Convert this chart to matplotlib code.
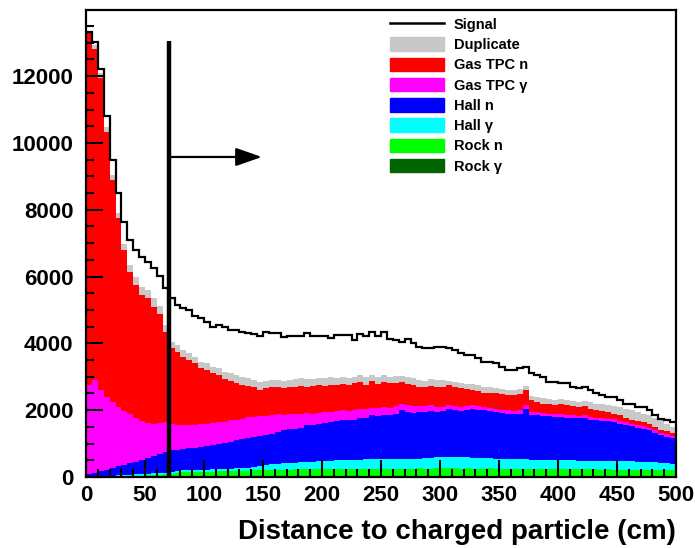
import numpy as np
import matplotlib
matplotlib.use("Agg")
import matplotlib.pyplot as plt
from matplotlib.patches import Patch
from matplotlib.lines import Line2D

plt.rcParams['font.family'] = ['Liberation Sans', 'DejaVu Sans']
plt.rcParams['font.weight'] = 'bold'

# bin edges: 100 bins of 5 cm from 0 to 500
bin_edges = np.linspace(0, 500, 101)

# Signal histogram (total)
signal = np.array([
    13330, 13020, 12220, 10820, 9480, 8500, 7630, 7090, 6790, 6590,
    6440, 6250, 6020, 5670, 5370, 5140, 5070, 4990, 4810, 4760,
    4640, 4490, 4540, 4490, 4390, 4390, 4340, 4300, 4280, 4220,
    4340, 4300, 4300, 4180, 4220, 4230, 4220, 4300, 4220, 4230,
    4210, 4150, 4250, 4260, 4240, 4110, 4280, 4220, 4350, 4230,
    4350, 4130, 4100, 4050, 4120, 4000, 3900, 3850, 3870, 3900,
    3880, 3850, 3800, 3700, 3650, 3650, 3550, 3450, 3450, 3400,
    3300, 3200, 3200, 3250, 3300, 3100, 3050, 3000, 2850, 2850,
    2800, 2800, 2700, 2650, 2700, 2600, 2500, 2450, 2400, 2400,
    2300, 2200, 2200, 2100, 2100, 2000, 1850, 1750, 1700, 1650])

# Cumulative stack levels (top edge of each stacked component)
stack_duplicate = np.array([
    13320, 12920, 12080, 10480, 9030, 7890, 6970, 6340, 5990, 5690,
    5600, 5350, 5120, 4550, 4050, 3950, 3800, 3720, 3600, 3450,
    3400, 3300, 3250, 3150, 3100, 3050, 2980, 2950, 2900, 2850,
    2870, 2900, 2900, 2880, 2900, 2920, 2950, 2920, 2940, 2960,
    2950, 2980, 2960, 2990, 2970, 3000, 3050, 2980, 3060, 2990,
    3060, 3000, 3010, 3030, 2990, 2960, 2900, 2880, 2920, 2900,
    2900, 2880, 2850, 2800, 2780, 2780, 2750, 2700, 2700, 2650,
    2620, 2600, 2600, 2620, 2720, 2420, 2400, 2350, 2330, 2300,
    2330, 2300, 2280, 2250, 2270, 2250, 2200, 2180, 2150, 2120,
    2100, 2050, 2000, 1950, 1880, 1850, 1780, 1700, 1600, 1500])

stack_gas_n = np.array([
    13290, 12820, 11930, 10330, 8880, 7740, 6790, 6140, 5740, 5440,
    5350, 5100, 4870, 4350, 3850, 3750, 3600, 3500, 3400, 3250,
    3200, 3100, 3050, 2920, 2880, 2820, 2750, 2720, 2700, 2600,
    2650, 2680, 2700, 2650, 2680, 2700, 2720, 2700, 2720, 2740,
    2730, 2760, 2740, 2780, 2750, 2800, 2850, 2760, 2860, 2780,
    2850, 2800, 2800, 2830, 2780, 2760, 2700, 2680, 2720, 2700,
    2700, 2750, 2680, 2650, 2620, 2600, 2580, 2520, 2520, 2500,
    2480, 2450, 2450, 2480, 2600, 2300, 2250, 2200, 2180, 2150,
    2200, 2150, 2120, 2100, 2120, 2050, 2000, 1980, 1950, 1900,
    1850, 1780, 1720, 1680, 1650, 1580, 1500, 1420, 1380, 1330])

stack_gas_gamma = np.array([
    2750, 2900, 2600, 2400, 2250, 2100, 1980, 1880, 1780, 1680,
    1620, 1600, 1620, 1650, 1600, 1560, 1550, 1560, 1560, 1580,
    1600, 1620, 1650, 1660, 1700, 1720, 1750, 1790, 1810, 1830,
    1840, 1860, 1880, 1870, 1880, 1900, 1900, 1910, 1900, 1920,
    1950, 1960, 1980, 2000, 1990, 2020, 2050, 2030, 2080, 2070,
    2100, 2080, 2120, 2200, 2150, 2120, 2130, 2120, 2150, 2100,
    2100, 2150, 2130, 2100, 2120, 2150, 2130, 2100, 2080, 2050,
    2020, 2000, 1980, 2000, 2150, 1960, 1950, 1930, 1900, 1900,
    1880, 1860, 1850, 1840, 1850, 1800, 1780, 1760, 1750, 1730,
    1680, 1650, 1600, 1560, 1520, 1480, 1400, 1330, 1280, 1230])

stack_hall_n = np.array([
    80, 120, 170, 220, 270, 320, 370, 420, 460, 520,
    580, 640, 700, 760, 800, 820, 830, 860, 880, 900,
    930, 960, 1000, 1030, 1060, 1100, 1130, 1160, 1200, 1230,
    1260, 1300, 1350, 1400, 1430, 1450, 1480, 1550, 1560, 1600,
    1620, 1650, 1680, 1700, 1700, 1720, 1780, 1760, 1850, 1830,
    1870, 1850, 1900, 2000, 1950, 1920, 1950, 1940, 1970, 1950,
    1980, 2050, 2000, 1980, 2000, 2050, 2020, 2000, 1990, 1960,
    1930, 1900, 1880, 1900, 2050, 1870, 1860, 1840, 1820, 1810,
    1800, 1780, 1770, 1760, 1760, 1720, 1700, 1690, 1680, 1650,
    1600, 1570, 1520, 1480, 1440, 1400, 1330, 1260, 1210, 1170])

stack_hall_gamma = np.array([
    10, 15, 20, 30, 40, 50, 60, 70, 80, 90,
    100, 110, 120, 130, 150, 180, 200, 210, 210, 220,
    220, 230, 240, 250, 250, 260, 270, 280, 300, 320,
    350, 380, 400, 410, 420, 430, 440, 450, 460, 470,
    480, 490, 500, 500, 510, 520, 520, 530, 540, 530,
    530, 540, 530, 550, 540, 540, 550, 560, 580, 600,
    610, 600, 610, 600, 590, 580, 570, 560, 560, 550,
    550, 540, 530, 530, 540, 520, 510, 510, 510, 510,
    510, 500, 500, 490, 490, 490, 480, 480, 480, 470,
    470, 470, 470, 460, 460, 450, 440, 420, 410, 400])

stack_rock_n = np.array([
    0, 0, 0, 5, 10, 15, 20, 25, 30, 40,
    50, 60, 70, 80, 100, 120, 140, 150, 150, 150,
    160, 160, 170, 170, 180, 180, 190, 190, 200, 200,
    210, 210, 220, 220, 220, 230, 230, 230, 230, 240,
    240, 240, 240, 240, 250, 250, 250, 240, 250, 250,
    250, 250, 250, 250, 250, 250, 260, 250, 250, 260,
    260, 260, 260, 250, 260, 250, 250, 250, 260, 250,
    250, 250, 250, 250, 250, 250, 240, 250, 240, 240,
    240, 230, 240, 230, 230, 230, 230, 220, 230, 220,
    220, 220, 220, 210, 220, 210, 210, 210, 200, 200])

stack_rock_gamma = np.array([
    0, 0, 0, 0, 0, 2, 3, 4, 5, 6,
    7, 8, 9, 10, 12, 14, 15, 16, 17, 18,
    18, 19, 20, 20, 20, 21, 21, 22, 22, 22,
    22, 23, 23, 23, 23, 24, 24, 24, 24, 24,
    24, 25, 25, 25, 25, 25, 25, 25, 25, 25,
    25, 25, 25, 25, 25, 25, 25, 25, 25, 25,
    25, 25, 25, 25, 25, 25, 25, 25, 25, 25,
    25, 25, 25, 25, 25, 24, 24, 24, 24, 24,
    24, 24, 23, 23, 23, 23, 22, 22, 22, 22,
    21, 21, 21, 20, 20, 20, 20, 19, 19, 18])

labels = ["Signal", "Duplicate", "Gas TPC n", "Gas TPC \u03b3", "Hall n",
          "Hall \u03b3", "Rock n", "Rock \u03b3"]
colors = ["black", "#c8c8c8", "#ff0000", "#ff00ff", "#0000ff",
          "#00ffff", "#00ff00", "#006400"]

cut_value = 70
arrow_end = 149
arrow_level = 9580
cut_line_top = 13060

fig = plt.figure(figsize=(6.95, 5.48), dpi=100)
ax = fig.add_axes([86/695, 1-477/548, 590/695, 467/548])

layers = [stack_duplicate, stack_gas_n, stack_gas_gamma, stack_hall_n,
          stack_hall_gamma, stack_rock_n, stack_rock_gamma]
bases = layers[1:] + [np.zeros(100)]
for top, base, col in zip(layers, bases, colors[1:]):
    ax.stairs(top, bin_edges, baseline=base, fill=True, color=col, lw=0)

ax.stairs(signal, bin_edges, baseline=None, color='black', lw=1.6)

# cut line and arrow
ax.plot([cut_value, cut_value], [0, cut_line_top], color='black', lw=3.2,
        solid_capstyle='butt')
ax.annotate('', xy=(arrow_end, arrow_level), xytext=(cut_value, arrow_level),
            arrowprops=dict(arrowstyle='-|>,head_length=0.8,head_width=0.28',
                            mutation_scale=20, lw=1.6, color='black',
                            shrinkA=0, shrinkB=0))

ax.set_xlim(0, 500)
ax.set_ylim(0, 13980)
ax.set_xticks(np.arange(0, 501, 50))
ax.set_xticks(np.arange(0, 501, 10), minor=True)
ax.set_yticks(np.arange(0, 12001, 2000))
ax.set_yticks(np.arange(0, 13980, 500), minor=True)
ax.tick_params(axis='both', which='both', direction='in', top=False, right=False,
               labelsize=16, width=1.5)
ax.tick_params(axis='both', which='major', length=12)
ax.tick_params(axis='both', which='minor', length=6)
ax.tick_params(axis='y', pad=9)
ax.tick_params(axis='x', pad=6)
for s in ax.spines.values():
    s.set_linewidth(1.6)

ax.set_xlabel("Distance to charged particle (cm)", fontsize=20, fontweight='bold',
              loc='right', labelpad=9)

handles = [Line2D([0], [0], color='black', lw=1.8)] + \
          [Patch(facecolor=c, edgecolor=c) for c in colors[1:]]
leg = ax.legend(handles, labels, loc='upper left', bbox_to_anchor=(0.515, 0.985),
                frameon=False, fontsize=10.5, handlelength=3.7, handleheight=1.05,
                labelspacing=0.38, handletextpad=0.68, borderpad=0, borderaxespad=0)
for t in leg.get_texts():
    t.set_fontweight('bold')

fig.savefig("out.png", dpi=100)
